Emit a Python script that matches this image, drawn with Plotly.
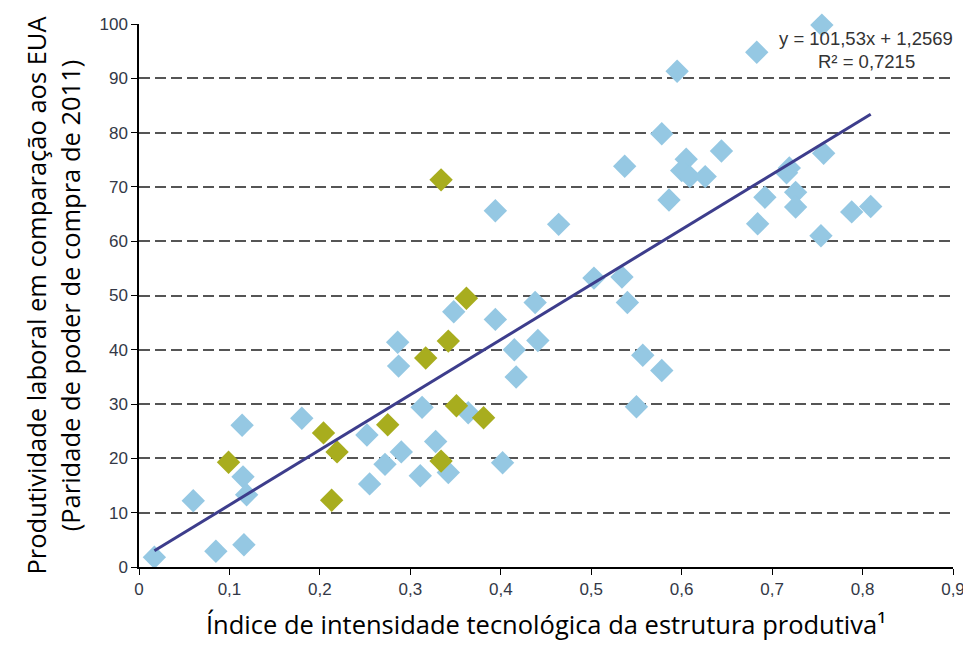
import plotly.graph_objects as go

# Blue series (other countries)
blue_x = [0.017, 0.060, 0.085, 0.116, 0.114, 0.115, 0.119, 0.180, 0.252, 0.255,
          0.272, 0.286, 0.287, 0.290, 0.313, 0.311, 0.328, 0.342, 0.348, 0.364,
          0.394, 0.394, 0.402, 0.415, 0.417, 0.438, 0.441, 0.464, 0.503, 0.534,
          0.540, 0.537, 0.557, 0.550, 0.578, 0.578, 0.586, 0.595, 0.605, 0.600,
          0.609, 0.626, 0.644, 0.683, 0.684, 0.692, 0.716, 0.719, 0.726, 0.726,
          0.755, 0.757, 0.754, 0.788, 0.809]
blue_y = [1.8, 12.2, 2.9, 4.1, 26.1, 16.6, 13.3, 27.4, 24.3, 15.3,
          18.9, 41.4, 37.0, 21.2, 29.4, 16.8, 23.1, 17.4, 47.0, 28.4,
          45.6, 65.6, 19.2, 40.0, 35.0, 48.7, 41.7, 63.1, 53.2, 53.4,
          48.7, 73.8, 39.0, 29.5, 36.2, 79.8, 67.6, 91.3, 75.1, 73.0,
          71.9, 71.9, 76.6, 94.8, 63.2, 68.1, 72.6, 73.5, 69.0, 66.3,
          99.8, 76.2, 61.0, 65.4, 66.4]

# Olive series (highlighted countries)
green_x = [0.099, 0.204, 0.219, 0.213, 0.275, 0.317, 0.334, 0.342, 0.362, 0.351,
           0.334, 0.381]
green_y = [19.3, 24.7, 21.2, 12.3, 26.2, 38.5, 71.3, 41.6, 49.5, 29.7,
           19.5, 27.5]

trend_slope = 101.53
trend_intercept = 1.2569
r_squared = "0,7215"

x_ticks = [0, 0.1, 0.2, 0.3, 0.4, 0.5, 0.6, 0.7, 0.8, 0.9]
x_tick_labels = ["0", "0,1", "0,2", "0,3", "0,4", "0,5", "0,6", "0,7", "0,8", "0,9"]
y_ticks = [0, 10, 20, 30, 40, 50, 60, 70, 80, 90, 100]

all_x = blue_x + green_x
tx = [min(all_x), max(all_x)]
ty = [trend_slope * v + trend_intercept for v in tx]

fig = go.Figure()
fig.add_trace(go.Scatter(x=blue_x, y=blue_y, mode="markers",
                         marker=dict(symbol="diamond", size=18, color="#95c8e3",
                                     line=dict(width=0)),
                         showlegend=False, cliponaxis=False))
fig.add_trace(go.Scatter(x=green_x, y=green_y, mode="markers",
                         marker=dict(symbol="diamond", size=18, color="#a8ad1e",
                                     line=dict(width=0)),
                         showlegend=False, cliponaxis=False))
fig.add_trace(go.Scatter(x=tx, y=ty, mode="lines",
                         line=dict(color="#3d3d8c", width=3),
                         showlegend=False, cliponaxis=False))

tick_font = dict(family="Liberation Sans, Arial", size=17, color="#333846")
title_font = dict(family="Open Sans, Calibri", size=25.5, color="#000000")

fig.update_layout(
    width=971, height=645,
    margin=dict(l=131, r=26, t=16, b=86),
    paper_bgcolor="white", plot_bgcolor="white",
    xaxis=dict(range=[0, 0.9], tickvals=x_ticks, ticktext=x_tick_labels,
               showgrid=False, zeroline=False, showline=True, automargin="bottom",
               linecolor="#000000", linewidth=1.5,
               ticks="outside", ticklen=6, tickwidth=1.2, tickcolor="#000000",
               tickfont=tick_font,
               title=dict(text="Índice de intensidade tecnológica da estrutura produtiva¹",
                          font=title_font, standoff=18)),
    yaxis=dict(range=[0, 100], tickvals=y_ticks,
               showgrid=True, gridcolor="#555555", gridwidth=1.5, griddash="11px,5px",
               zeroline=False, showline=True, automargin="left",
               linecolor="#000000", linewidth=1.5,
               ticks="outside", ticklen=6, tickwidth=1.2, tickcolor="#000000",
               tickfont=tick_font,
               title=dict(text="Produtividade laboral em comparação aos EUA<br>(Paridade de poder de compra de 2011)",
                          font=title_font, standoff=12)),
    annotations=[
        dict(x=0.804, y=97.4, xref="x", yref="y",
             text=f"y = {trend_slope:.2f}x + {trend_intercept:.4f}".replace(".", ","),
             showarrow=False, font=dict(family="Liberation Sans, Arial", size=18.5, color="#333333"),
             xanchor="center", yanchor="middle"),
        dict(x=0.804, y=93.1, xref="x", yref="y",
             text=f"R² = {r_squared}",
             showarrow=False, font=dict(family="Liberation Sans, Arial", size=18.5, color="#333333"),
             xanchor="center", yanchor="middle"),
    ],
)

fig.write_html("out.html")
